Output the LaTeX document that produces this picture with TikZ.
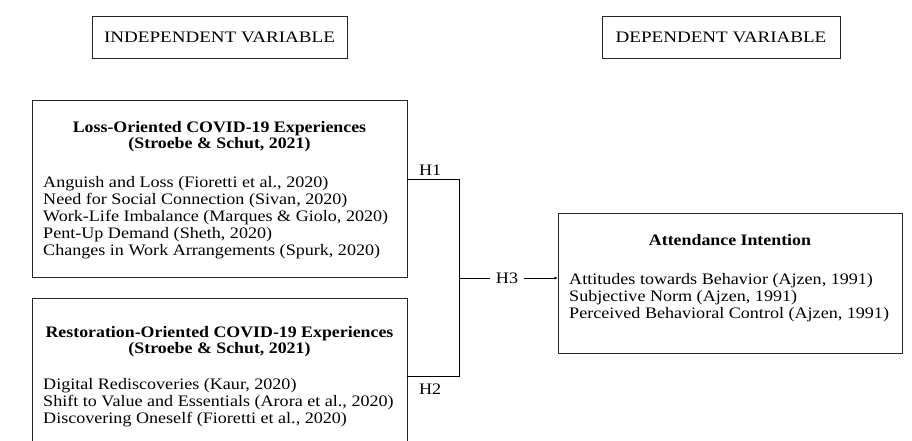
\documentclass[tikz,border=0pt]{standalone}
\usepackage{fontspec}
\setmainfont{Liberation Serif}[FakeStretch=1.13, BoldFeatures={FakeStretch=1.115}]
\newfontfamily\capsfont{Liberation Serif}[FakeStretch=1.19]
\usetikzlibrary{arrows.meta}
\begin{document}
\begin{tikzpicture}[x=1pt,y=-1pt,
  box/.style={draw=black!85, line width=0.9pt, inner sep=0pt},
  varbox/.style={box, minimum height=42pt, font=\capsfont\fontsize{16}{17}\selectfont},
  head/.style={font=\fontsize{16}{16}\selectfont\bfseries, align=center, inner sep=0pt},
  items/.style={font=\fontsize{16}{17}\selectfont, align=left, inner sep=0pt},
  hyp/.style={font=\fontsize{16}{17}\selectfont, inner sep=3pt}]
\clip (0,0) rectangle (912,441);
% variable headers
\node[varbox, minimum width=255pt] (indep) at (219.5,37) {INDEPENDENT VARIABLE};
\node[varbox, minimum width=238pt] (dep) at (721,37) {DEPENDENT VARIABLE};
% loss-oriented
\node[box, minimum width=375pt, minimum height=177pt] (loss) at (219.5,188.5) {};
\node[head, anchor=north] (losshead) at (219.5,121) {Loss-Oriented COVID-19 Experiences\\(Stroebe \& Schut, 2021)};
\node[items, anchor=north west] (lossitems) at (43,176.5) {Anguish and Loss (Fioretti et al., 2020)\\
Need for Social Connection (Sivan, 2020)\\
Work-Life Imbalance (Marques \& Giolo, 2020)\\
Pent-Up Demand (Sheth, 2020)\\
Changes in Work Arrangements (Spurk, 2020)};
% restoration-oriented
\node[box, minimum width=375pt, minimum height=182pt] (rest) at (219.5,389) {};
\node[head, anchor=north] (resthead) at (219.5,326) {Restoration-Oriented COVID-19 Experiences\\(Stroebe \& Schut, 2021)};
\node[items, anchor=north west] (restitems) at (43,378) {Digital Rediscoveries (Kaur, 2020)\\
Shift to Value and Essentials (Arora et al., 2020)\\
Discovering Oneself (Fioretti et al., 2020)};
% attendance intention
\node[box, minimum width=344pt, minimum height=140pt] (att) at (730,283) {};
\node[head, anchor=north] (atthead) at (730,234) {Attendance Intention};
\node[items, anchor=north west] (attitems) at (569,273) {Attitudes towards Behavior (Ajzen, 1991)\\
Subjective Norm (Ajzen, 1991)\\
Perceived Behavioral Control (Ajzen, 1991)};
% hypotheses
\coordinate (join) at (459,278);
\node[hyp, inner xsep=6pt] (h3) at (507,278) {H3};
\draw[line width=0.8pt] ([yshift=9.5pt]loss.east) -| (join) node[hyp, pos=0.22, above] (h1) {H1};
\draw[line width=0.8pt] ([yshift=13pt]rest.east) -| (join) node[hyp, pos=0.22, below, yshift=-5pt] (h2) {H2};
\draw[line width=0.8pt] (join) -- (h3.west);
\draw[line width=0.8pt, -{Latex[length=3pt,width=3pt]}] (h3.east) -- (h3.east -| att.west);
\end{tikzpicture}
\end{document}
